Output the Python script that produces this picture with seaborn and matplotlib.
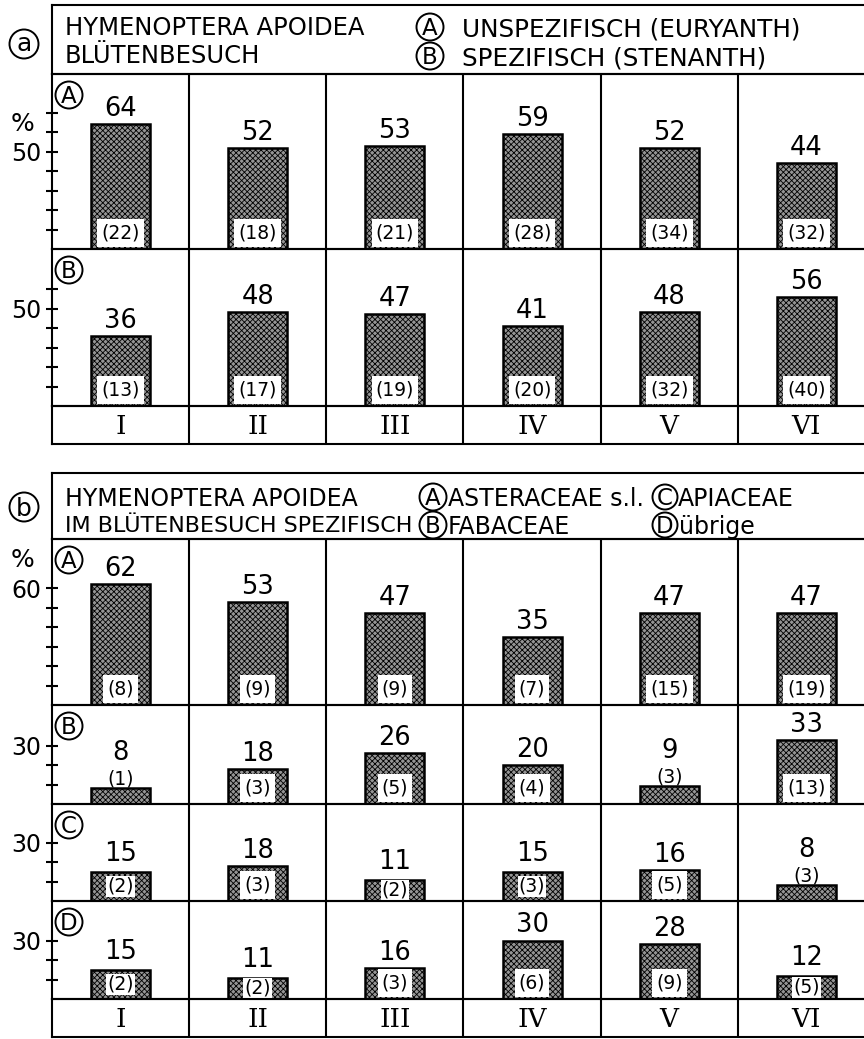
import matplotlib
matplotlib.use("Agg")
import matplotlib.pyplot as plt
from matplotlib.patches import Ellipse
import seaborn as sns
import pandas as pd

sns.set_theme(style="white")
plt.rcParams["font.family"] = ["DejaVu Sans"]
plt.rcParams["hatch.linewidth"] = 0.6
plt.rcParams["hatch.color"] = "#1a1a1a"

# ---------------- data ----------------
periods = ["I", "II", "III", "IV", "V", "VI"]

# panel a: Blütenbesuch
a_unspez = [64, 52, 53, 59, 52, 44]
a_unspez_n = [22, 18, 21, 28, 34, 32]
a_spez = [36, 48, 47, 41, 48, 56]
a_spez_n = [13, 17, 19, 20, 32, 40]

# panel b: im Blütenbesuch spezifisch
b_aster = [62, 53, 47, 35, 47, 47]
b_aster_n = [8, 9, 9, 7, 15, 19]
b_faba = [8, 18, 26, 20, 9, 33]
b_faba_n = [1, 3, 5, 4, 3, 13]
b_api = [15, 18, 11, 15, 16, 8]
b_api_n = [2, 3, 2, 3, 5, 3]
b_other = [15, 11, 16, 30, 28, 12]
b_other_n = [2, 2, 3, 6, 9, 5]

# ---------------- layout ----------------
W, H = 864, 1039
DPI = 100
fig = plt.figure(figsize=(W / DPI, H / DPI), dpi=DPI)
fig.patch.set_facecolor("white")

X0, X1 = 52, 875          # frame left / right (right edge is cut off)
PXP = 1.95                # pixels per percent
LW = 1.5                  # frame line width (pt)
BLW = 1.8                 # bar edge width
BAR = "#959595"
PT = 72 / DPI             # points per pixel
VAL_FS = 18.5
N_FS = 13.5
CIRC_FS = 16.5


def px_axes(top, bottom):
    ax = fig.add_axes([X0 / W, 1 - bottom / H, (X1 - X0) / W, (bottom - top) / H])
    ax.set_facecolor("none")
    for s in ax.spines.values():
        s.set_visible(True)
        s.set_color("black")
        s.set_linewidth(LW)
    return ax


def ctext(x, y, s, size, ha="left", **kw):
    """text whose capitals are vertically centred on pixel y"""
    cap = 0.73 * size / PT
    return fig.text(x / W, 1 - (y + cap / 2) / H, s, ha=ha, va="baseline",
                    fontsize=size, color="black", **kw)


def circ_letter(cx, cy, ch, r=13.5, size=CIRC_FS, off=None):
    e = Ellipse((cx / W, 1 - cy / H), 2 * r / W, 2 * r / H,
                transform=fig.transFigure, fill=False, ec="black", lw=1.4)
    fig.add_artist(e)
    if off is None:
        off = 0.73 * size / PT / 2
    fig.text(cx / W, 1 - (cy + off) / H, ch, ha="center", va="baseline",
             fontsize=size, color="black")


def header(top, bottom):
    ax = px_axes(top, bottom)
    ax.set_xticks([])
    ax.set_yticks([])
    return ax


def roman_row(top, bottom):
    ax = px_axes(top, bottom)
    ax.set_xlim(-0.5, 5.5)
    ax.set_ylim(0, 1)
    ax.set_xticks([])
    ax.set_yticks([])
    for k in range(1, 6):
        ax.axvline(k - 0.5, color="black", lw=LW)
    for i, p in enumerate(periods):
        ax.text(i, 0.45, p, ha="center", va="center", fontsize=19,
                family="DejaVu Serif", color="black")
    return ax


def bar_row(top, bottom, vals, ns, letter, ticks, lab):
    ax = px_axes(top, bottom)
    df = pd.DataFrame({"Zeitraum": periods, "Anteil": vals})
    sns.barplot(data=df, x="Zeitraum", y="Anteil", order=periods, ax=ax,
                width=0.43, color=BAR, saturation=1, edgecolor="black",
                linewidth=BLW, hatch="xxxxxx", errorbar=None)
    ax.set_xlim(-0.5, 5.5)
    ax.set_ylim(0, (bottom - top) / PXP)
    for k in range(1, 6):
        ax.axvline(k - 0.5, color="black", lw=LW)
    ax.set_xticks([])
    ax.set_xlabel("")
    ax.set_ylabel("")
    ax.set_yticks(ticks)
    ax.set_yticklabels([str(t) if t == lab else "" for t in ticks])
    ax.tick_params(axis="y", direction="inout", length=8, width=LW,
                   labelsize=17, pad=4, left=True, color="black",
                   labelcolor="black")
    for i, (v, n) in enumerate(zip(vals, ns)):
        if v < 10:
            # bar too short: count written above the bar
            ax.annotate(f"({n})", (i, v), xytext=(0, 4),
                        textcoords="offset pixels", ha="center",
                        va="baseline", fontsize=N_FS, color="black")
            ax.annotate(str(v), (i, v), xytext=(0, 28),
                        textcoords="offset pixels", ha="center",
                        va="baseline", fontsize=VAL_FS, color="black")
            continue
        bar_px = v * PXP
        if bar_px < 30:
            yc, pad, voff = bar_px / 2, 0.06, 11
        else:
            yc, pad, voff = 16, 0.22, 8
        ax.annotate(f"({n})", (i, 0), xytext=(0, yc),
                    textcoords="offset pixels", ha="center", va="center",
                    fontsize=N_FS, color="black",
                    bbox=dict(boxstyle=f"square,pad={pad}", fc="white",
                              ec="none"))
        ax.annotate(str(v), (i, v), xytext=(0, voff),
                    textcoords="offset pixels", ha="center",
                    va="baseline", fontsize=VAL_FS, color="black")
    circ_letter(69, top + 21, letter)
    return ax


# ---------------- panel a ----------------
header(5, 74)
circ_letter(24, 44, "a", r=14.5, size=18, off=0.55 * 18 / PT / 2)
ctext(65, 26, "HYMENOPTERA APOIDEA", 17.5)
ctext(65, 54, "BLÜTENBESUCH", 17.5)
circ_letter(430, 27, "A")
ctext(462, 27, "UNSPEZIFISCH (EURYANTH)", 17.8)
circ_letter(430, 56, "B")
ctext(462, 56, "SPEZIFISCH (STENANTH)", 17.8)

bar_row(74, 249, a_unspez, a_unspez_n, "A", [10, 20, 30, 40, 50, 60, 70], 50)
bar_row(249, 406, a_spez, a_spez_n, "B", [10, 20, 30, 40, 50, 60], 50)
roman_row(406, 444)
ctext(23, 122, "%", 18, ha="center")

# ---------------- panel b ----------------
header(473, 539)
circ_letter(24, 507, "b", r=14.5, size=18, off=0.73 * 18 / PT / 2)
ctext(65, 497, "HYMENOPTERA APOIDEA", 17)
ctext(65, 524, "IM BLÜTENBESUCH SPEZIFISCH", 16)
circ_letter(433, 497, "A")
ctext(448, 497, "ASTERACEAE s.l.", 17)
circ_letter(433, 525, "B")
ctext(448, 525, "FABACEAE", 17)
circ_letter(665, 497, "C", r=12.5)
ctext(678, 497, "APIACEAE", 17)
circ_letter(665, 525, "D", r=12.5)
ctext(679, 525, "übrige", 17)

bar_row(539, 705, b_aster, b_aster_n, "A", [10, 20, 30, 40, 50, 60], 60)
bar_row(705, 804, b_faba, b_faba_n, "B", [10, 20, 30], 30)
bar_row(804, 901, b_api, b_api_n, "C", [10, 20, 30], 30)
bar_row(901, 999, b_other, b_other_n, "D", [10, 20, 30], 30)
roman_row(999, 1037)
ctext(23, 558, "%", 18, ha="center")

fig.savefig("out.png", dpi=DPI, facecolor="white")
